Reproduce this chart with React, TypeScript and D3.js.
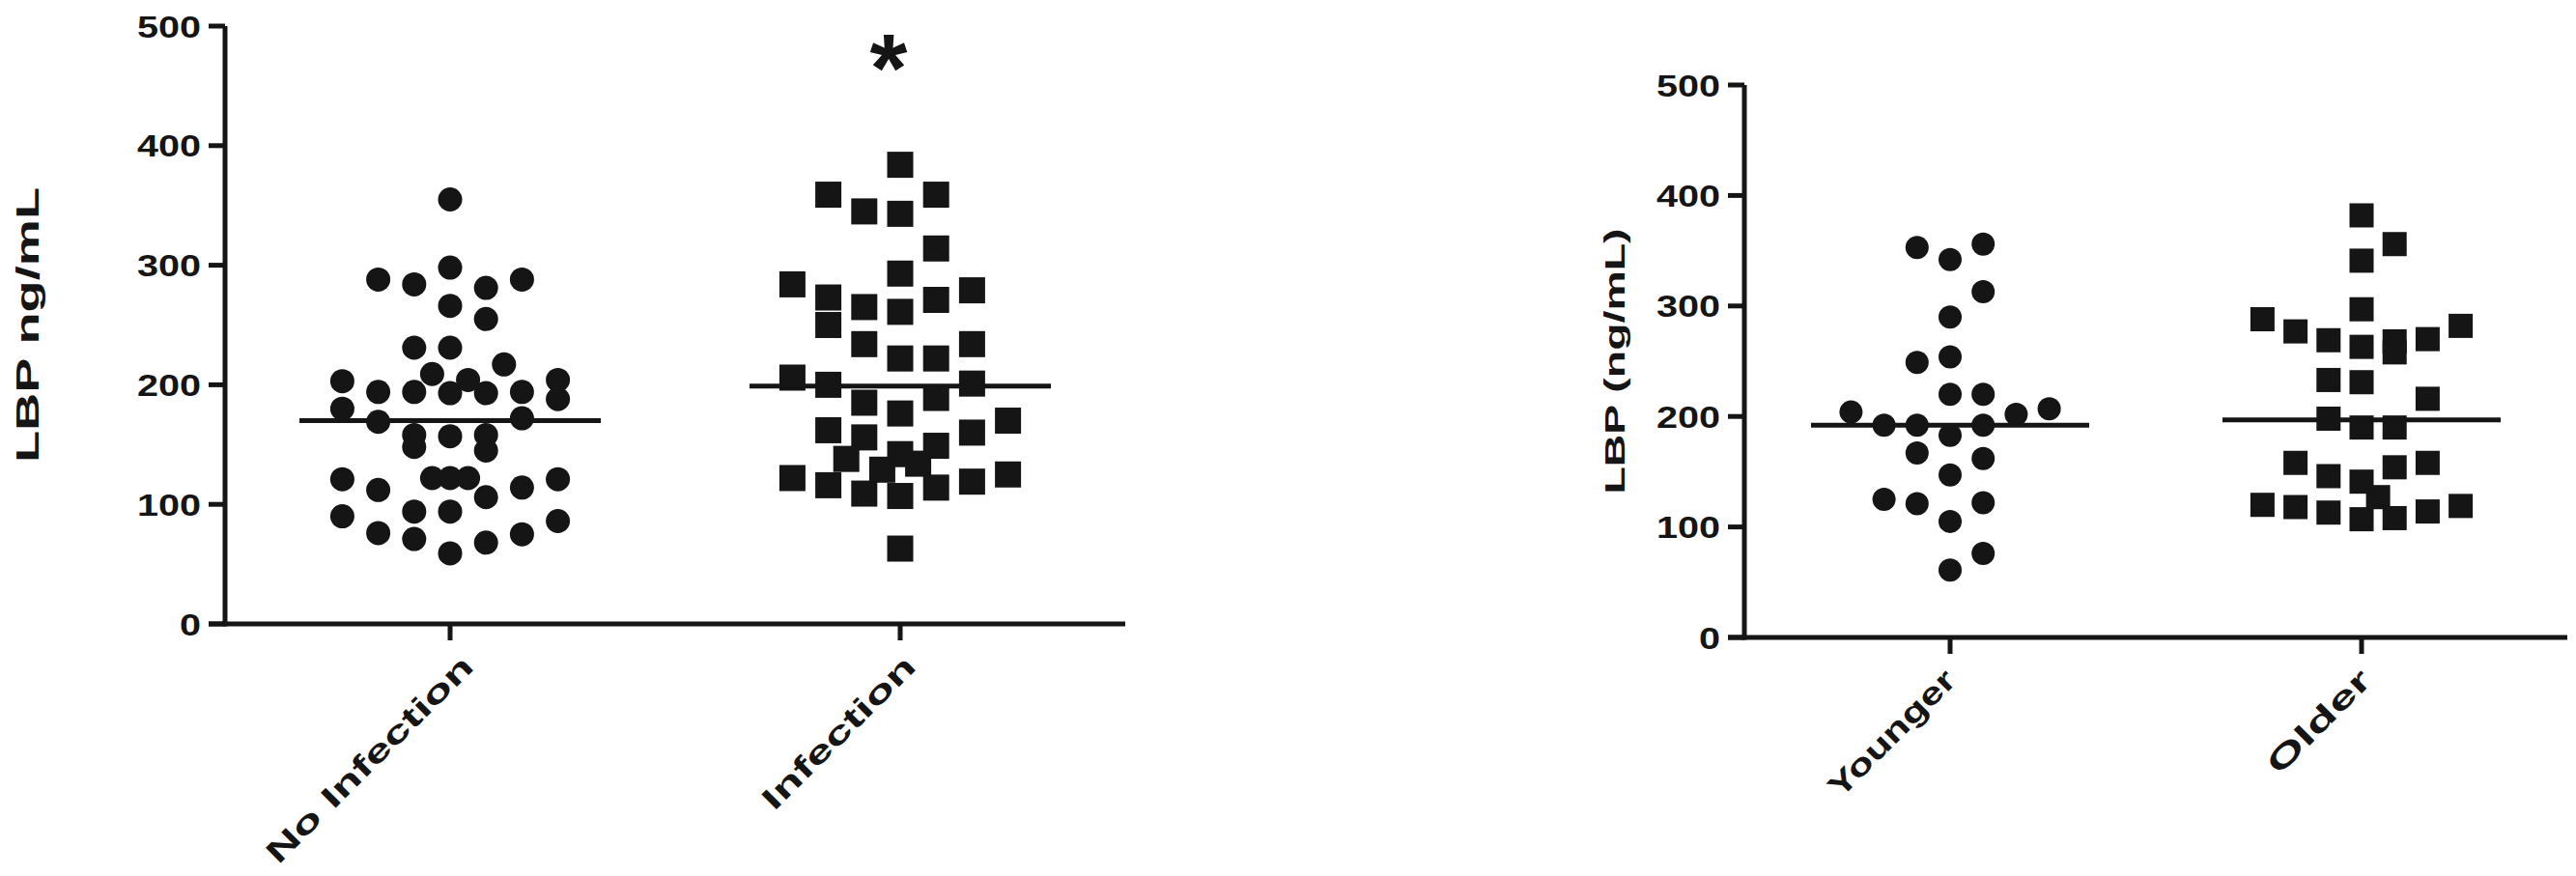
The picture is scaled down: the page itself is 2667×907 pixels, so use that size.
import React from 'react';
import * as d3 from 'd3';

// ---------- data ----------
const leftCategories = ['No Infection', 'Infection'];
const rightCategories = ['Younger', 'Older'];
const yTicks = [0, 100, 200, 300, 400, 500];
const leftYLabel = 'LBP ng/mL';
const rightYLabel = 'LBP (ng/mL)';

const noInfectionValues = [355, 288, 284, 298, 281, 288, 266, 255, 231, 231, 217, 203, 194, 194, 209, 193, 204, 193, 194, 204, 188, 180, 169, 172, 158, 148, 157, 158, 145, 121, 112, 122, 122, 122, 106, 114, 121, 90, 76, 94, 71, 94, 59, 68, 75, 86];
const noInfectionSlots = [0, -2, -1, 0, 1, 2, 0, 1, -1, 0, 1.5, -3, -2, -1, -0.5, 0, 0.5, 1, 2, 3, 3, -3, -2, 2, -1, -1, 0, 1, 1, -3, -2, -0.5, 0, 0.5, 1, 2, 3, -3, -2, -1, -1, 0, 0, 1, 2, 3];

const infectionValues = [384, 359, 359, 345, 343, 314, 293, 284, 279, 273, 250, 265, 261, 271, 234, 222, 222, 234, 206, 200, 201, 185, 189, 176, 170, 162, 156, 160, 149, 142, 116, 138, 109, 129, 107, 134, 114, 119, 125, 122, 63];
const infectionSlots = [0, -2, 1, -1, 0, 1, 0, -3, 2, -2, -2, -1, 0, 1, -1, 0, 1, 2, -3, -2, 2, -1, 1, 0, 3, -2, -1, 2, 1, 0, -2, -1.5, -1, -0.5, 0, 0.5, 1, 2, 3, -3, 0];

const youngerValues = [353, 342, 356, 313, 290, 249, 254, 220, 220, 204, 202, 207, 192, 192, 192, 183, 167, 162, 147, 125, 121, 122, 105, 61, 76];
const youngerSlots = [-1, 0, 1, 1, 0, -1, 0, 0, 1, -3, 2, 3, -2, -1, 1, 0, -1, 1, 0, -2, -1, 1, 0, 0, 1];

const olderValues = [382, 356, 341, 297, 288, 282, 277, 269, 263, 268, 258, 270, 233, 231, 216, 198, 190, 190, 158, 146, 141, 154, 158, 127, 120, 118, 113, 107, 108, 114, 119];
const olderSlots = [0, 1, 0, 0, -3, 3, -2, -1, 0, 1, 1, 2, -1, 0, 2, -1, 0, 1, -2, -1, 0, 1, 2, 0.5, -3, -2, -1, 0, 1, 2, 3];

const leftCenterLines = [170, 199];
const rightCenterLines = [192, 197];
const leftSignificance = ['', '*'];

// ---------- layout ----------
const W = 2667;
const H = 907;
const FONT = 'Arial, "Liberation Sans", Helvetica, sans-serif';
const INK = '#151515';

type Group = { values: number[]; slots: number[]; shape: 'circle' | 'square' };

type PanelProps = {
  axisX: number;
  yTop: number;
  yBottom: number;
  xEnd: number;
  categories: string[];
  groups: Group[];
  centerLines: number[];
  yLabel: string;
  yLabelX: number;
  yLabelLen: number;
  yLabelSize: number;
  slotStep: number;
  radius: number;
  side: number;
  lineHalf: number;
  xLabelLens: number[];
  xLabelShift: number[];
  marks?: string[];
};

function Panel(p: PanelProps) {
  const y = d3.scaleLinear().domain([0, 500]).range([p.yBottom, p.yTop]);
  const x = d3.scalePoint<string>().domain(p.categories).range([p.axisX, p.xEnd]).padding(0.5);
  const slot = d3.scaleLinear().domain([0, 1]).range([0, p.slotStep]);
  const sw = 5;
  const tickLen = 17;
  return (
    <g>
      {/* y axis */}
      <line x1={p.axisX} x2={p.axisX} y1={p.yTop} y2={p.yBottom + sw / 2} stroke={INK} strokeWidth={sw} />
      {yTicks.map((t) => (
        <g key={t}>
          <line x1={p.axisX - tickLen} x2={p.axisX} y1={y(t)} y2={y(t)} stroke={INK} strokeWidth={sw} />
          <text
            x={p.axisX - tickLen - 8}
            y={y(t)}
            dy="0.36em"
            textAnchor="end"
            fontFamily={FONT}
            fontWeight="bold"
            fontSize={32}
            fill={INK}
            textLength={String(t).length * 22}
            lengthAdjust="spacingAndGlyphs"
          >
            {t}
          </text>
        </g>
      ))}
      {/* x axis */}
      <line x1={p.axisX - tickLen} x2={p.xEnd} y1={p.yBottom} y2={p.yBottom} stroke={INK} strokeWidth={sw} />
      {p.categories.map((c, i) => {
        const cx = x(c)!;
        return (
          <g key={c}>
            <line x1={cx} x2={cx} y1={p.yBottom} y2={p.yBottom + tickLen} stroke={INK} strokeWidth={sw} />
            <text
              transform={`translate(${cx + 12 + p.xLabelShift[i]},${p.yBottom + 46}) rotate(-45)`}
              textAnchor="end"
              fontFamily={FONT}
              fontWeight="bold"
              fontSize={32}
              fill={INK}
              textLength={p.xLabelLens[i]}
              lengthAdjust="spacingAndGlyphs"
            >
              {c}
            </text>
          </g>
        );
      })}
      {/* y label */}
      <text
        transform={`translate(${p.yLabelX},${(p.yTop + p.yBottom) / 2}) rotate(-90)`}
        textAnchor="middle"
        fontFamily={FONT}
        fontWeight="bold"
        fontSize={p.yLabelSize}
        fill={INK}
        textLength={p.yLabelLen}
        lengthAdjust="spacingAndGlyphs"
      >
        {p.yLabel}
      </text>
      {/* points */}
      {p.groups.map((g, gi) => {
        const cx = x(p.categories[gi])!;
        return (
          <g key={gi} fill={INK}>
            {g.values.map((v, i) =>
              g.shape === 'circle' ? (
                <circle key={i} cx={cx + slot(g.slots[i])} cy={y(v)} r={p.radius} />
              ) : (
                <rect
                  key={i}
                  x={cx + slot(g.slots[i]) - p.side / 2}
                  y={y(v) - p.side / 2}
                  width={p.side}
                  height={p.side}
                />
              )
            )}
          </g>
        );
      })}
      {/* center lines */}
      {p.centerLines.map((m, i) => {
        const cx = x(p.categories[i])!;
        return (
          <line key={i} x1={cx - p.lineHalf} x2={cx + p.lineHalf} y1={y(m)} y2={y(m)} stroke={INK} strokeWidth={5} />
        );
      })}
      {/* significance */}
      {p.marks &&
        p.marks.map((m, i) =>
          m ? (
            <text
              key={i}
              x={x(p.categories[i])! - 12}
              y={y(500) + 78}
              textAnchor="middle"
              fontFamily={FONT}
              fontWeight="bold"
              fontSize={100}
              fill={INK}
            >
              {m}
            </text>
          ) : null
        )}
    </g>
  );
}

export default function App() {
  return (
    <svg
      width={W}
      height={H}
      viewBox={`0 0 ${W} ${H}`}
      style={{ position: 'absolute', left: 0, top: 0, background: '#fff' }}
    >
      <rect width={W} height={H} fill="#fff" />
      <Panel
        axisX={233}
        yTop={27}
        yBottom={646}
        xEnd={1165}
        categories={leftCategories}
        groups={[
          { values: noInfectionValues, slots: noInfectionSlots, shape: 'circle' },
          { values: infectionValues, slots: infectionSlots, shape: 'square' },
        ]}
        centerLines={leftCenterLines}
        yLabel={leftYLabel}
        yLabelX={40}
        yLabelLen={285}
        yLabelSize={34}
        slotStep={37.2}
        radius={12.5}
        side={27}
        lineHalf={156}
        xLabelLens={[288, 210]}
        xLabelShift={[14, 6]}
        marks={leftSignificance}
      />
      <Panel
        axisX={1806}
        yTop={88}
        yBottom={660}
        xEnd={2658}
        categories={rightCategories}
        groups={[
          { values: youngerValues, slots: youngerSlots, shape: 'circle' },
          { values: olderValues, slots: olderSlots, shape: 'square' },
        ]}
        centerLines={rightCenterLines}
        yLabel={rightYLabel}
        yLabelX={1682}
        yLabelLen={275}
        yLabelSize={30}
        slotStep={34.2}
        radius={12}
        side={25}
        lineHalf={144}
        xLabelLens={[172, 138]}
        xLabelShift={[-4, 0]}
      />
    </svg>
  );
}
